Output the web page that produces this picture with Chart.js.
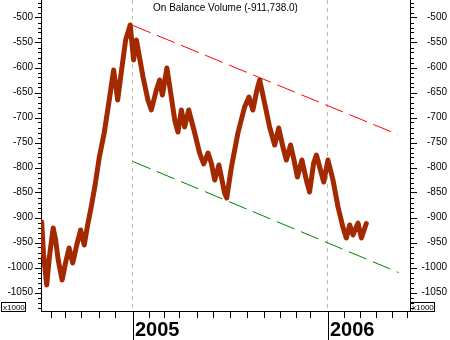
<!DOCTYPE html>
<html><head><meta charset="utf-8">
<script src="https://cdn.jsdelivr.net/npm/chart.js@4"></script>
<style>html,body{margin:0;padding:0;background:#fff}#wrap{width:450px;height:340px;position:relative}</style>
</head><body><div id="wrap"><canvas id="c"></canvas></div>
<script>
// x values are months relative to Jan 2005 (0 = 2005, 12 = 2006); y values in thousands
const obvMonths = [-5.62,-5.50,-5.31,-5.13,-4.91,-4.76,-4.60,-4.36,-4.14,-3.93,
  -3.71,-3.46,-3.22,-3.00,-2.79,-2.57,-2.33,-2.08,-1.77,-1.46,
  -1.19,-1.06,-0.94,-0.70,-0.45,-0.17,0.04,0.21,0.41,0.62,
  0.92,1.13,1.44,1.64,1.81,2.09,2.36,2.57,2.77,2.98,
  3.18,3.43,3.80,4.10,4.35,4.62,4.82,5.03,5.29,5.64,
  5.77,6.06,6.46,6.87,7.14,7.38,7.63,7.80,8.10,8.41,
  8.72,8.97,9.23,9.44,9.70,9.91,10.12,10.40,10.67,10.87,
  11.12,11.29,11.59,11.74,12.00,12.31,12.62,12.92,13.13,13.34,
  13.54,13.85,14.06,14.36];
const obvValues = [-909,-975,-1035,-975,-921,-945,-985,-1025,-989,-961,
  -991,-955,-925,-955,-915,-879,-835,-781,-731,-665,
  -605,-635,-665,-605,-545,-515,-585,-545,-581,-619,
  -665,-685,-645,-625,-655,-601,-659,-705,-729,-685,
  -719,-685,-731,-771,-793,-771,-791,-825,-795,-851,
  -861,-799,-731,-679,-659,-685,-645,-625,-671,-719,
  -755,-721,-759,-785,-755,-785,-819,-785,-825,-849,
  -791,-775,-811,-829,-785,-825,-879,-919,-941,-915,
  -935,-911,-941,-912];
const upperTrendMonths = [0, 16.3];
const upperTrendValues = [-516, -734];
const lowerTrendMonths = [0, 16.35];
const lowerTrendValues = [-788, -1010];
const monthTicks = [-5.02,-4.16,-3.18,-2.11,-1.08,0,0.98,1.89,2.83,3.94,4.92,5.95,7.02,8.05,9.03,10.06,10.92,12,12.97,13.95,14.98,15.96,16.86];
const yearLabels = {0: '2005', 12: '2006'};
const yTickValues = [-1050,-1000,-950,-900,-850,-800,-750,-700,-650,-600,-550,-500];
const titleText = 'On Balance Volume (-911,738.0)';
const unitText = 'x1000';

const pts = (xs, ys) => xs.map((x, i) => ({x: x, y: ys[i]}));
const FONT = '"Liberation Sans", Arial, sans-serif';
const noPad = s => { s.paddingTop = 0; s.paddingBottom = 0; s.paddingLeft = 0; s.paddingRight = 0; };

const decor = {
  id: 'decor',
  afterDraw(chart) {
    const ctx = chart.ctx, a = chart.chartArea;
    const xs = chart.scales.x, yl = chart.scales.y;
    ctx.save();
    ctx.strokeStyle = '#000'; ctx.lineWidth = 1;
    ctx.beginPath();
    for (let v = Math.ceil(yl.min / 10) * 10; v <= yl.max; v += 10) {
      const py = Math.round(yl.getPixelForValue(v)) + 0.5;
      const major = v % 50 === 0;
      ctx.moveTo(a.left, py); ctx.lineTo(a.left - (major ? 6 : 3), py);
      ctx.moveTo(a.right + 1, py); ctx.lineTo(a.right + 1 + (major ? 6 : 3), py);
    }
    xs.ticks.forEach(t => {
      const px = Math.round(xs.getPixelForValue(t.value)) + 0.5;
      const yr = yearLabels[t.value] !== undefined;
      ctx.moveTo(px, a.bottom + 1); ctx.lineTo(px, yr ? 340 : a.bottom + 7);
    });
    ctx.stroke();
    ctx.fillStyle = '#000';
    ctx.font = '10px ' + FONT;
    ctx.textAlign = 'center'; ctx.textBaseline = 'alphabetic';
    ctx.fillText(titleText, (a.left + a.right) / 2, 11);
    ctx.font = '8px ' + FONT;
    ctx.textAlign = 'left';
    ctx.strokeRect(1.5, 302.5, 24, 9);
    ctx.fillText(unitText, 3, 310);
    ctx.strokeRect(a.right + 0.5, 302.5, 24, 9);
    ctx.fillText(unitText, a.right + 2, 310);
    ctx.restore();
  }
};

new Chart(document.getElementById('c'), {
  type: 'line',
  data: {
    datasets: [
      {data: pts(obvMonths, obvValues), borderColor: '#a32a00', borderWidth: 5, pointRadius: 0, tension: 0, borderJoinStyle: 'round', borderCapStyle: 'round', yAxisID: 'y', order: 0},
      {data: pts(upperTrendMonths, upperTrendValues), borderColor: '#ff0000', borderWidth: 1, borderDash: [19, 7], pointRadius: 0, yAxisID: 'y', order: 1},
      {data: pts(lowerTrendMonths, lowerTrendValues), borderColor: '#008000', borderWidth: 1, borderDash: [19, 7], pointRadius: 0, yAxisID: 'y', order: 1}
    ]
  },
  options: {
    responsive: true, maintainAspectRatio: false, animation: false,
    layout: {padding: {left: 0, right: 3, top: 0, bottom: 0}},
    plugins: {legend: {display: false}, title: {display: false}, tooltip: {enabled: false}},
    scales: {
      x: {
        type: 'linear', position: 'bottom', min: -5.66, max: 17.05,
        afterBuildTicks: s => { s.ticks = monthTicks.map(v => ({value: v})); },
        afterFit: s => { s.height = 29; noPad(s); },
        grid: {display: true, drawTicks: false, drawOnChartArea: true, lineWidth: 1,
          color: c => (c.tick && yearLabels[c.tick.value] !== undefined) ? '#bdbdbd' : 'rgba(0,0,0,0)'},
        border: {display: true, color: '#000', width: 1, dash: [4, 4]},
        ticks: {autoSkip: false, maxRotation: 0, align: 'start', labelOffset: 2, padding: 7,
          color: '#000', font: {family: FONT, size: 20, weight: 'bold'},
          callback: v => yearLabels[v] !== undefined ? yearLabels[v] : ''}
      },
      y: {
        type: 'linear', position: 'left', min: -1087, max: -465,
        afterBuildTicks: s => { s.ticks = yTickValues.map(v => ({value: v})); },
        afterFit: s => { s.width = 41; noPad(s); },
        grid: {display: false, drawTicks: false},
        border: {display: true, color: '#000', width: 1},
        ticks: {autoSkip: false, padding: 8, color: '#000', font: {family: FONT, size: 10},
          callback: v => String(v)}
      },
      y2: {
        type: 'linear', position: 'right', min: -1087, max: -465,
        afterBuildTicks: s => { s.ticks = yTickValues.map(v => ({value: v})); },
        afterFit: s => { s.width = 37; noPad(s); },
        grid: {display: false, drawTicks: false},
        border: {display: true, color: '#000', width: 1},
        ticks: {autoSkip: false, padding: 8, crossAlign: 'far', color: '#000', font: {family: FONT, size: 10},
          callback: v => String(v)}
      }
    }
  },
  plugins: [decor]
});
</script>
</body></html>
